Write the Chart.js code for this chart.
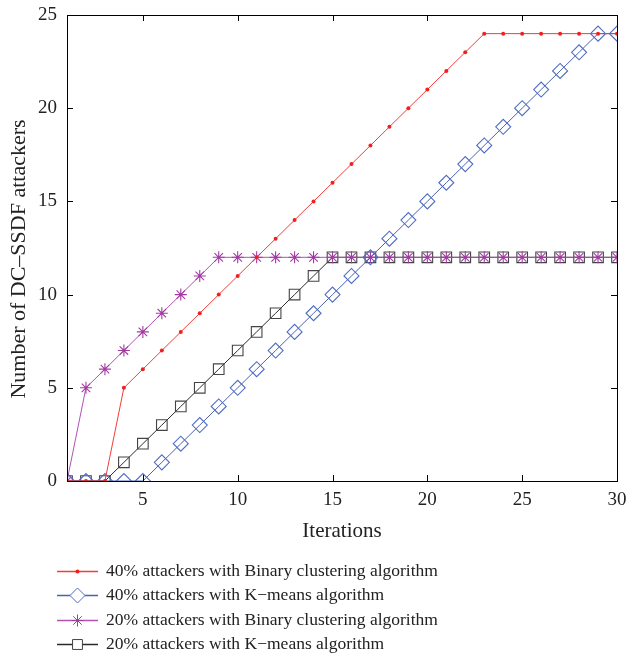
<!DOCTYPE html>
<html>
<head>
<meta charset="utf-8">
<script src="https://cdn.jsdelivr.net/npm/chart.js@4/dist/chart.umd.min.js"></script>
<style>
  html, body { margin: 0; padding: 0; background: #fff; }
  #wrap { width: 626px; height: 656px; }
</style>
</head>
<body>
<div id="wrap"><canvas id="chart" width="626" height="656"></canvas></div>
<script>
const iteracoes = Array.from({ length: 30 }, (_, i) => i + 1);

const binario40 = [0, 0, 0, 5, 6, 7, 8, 9, 10, 11, 12, 13, 14, 15, 16, 17, 18, 19, 20, 21, 22, 23, 24, 24, 24, 24, 24, 24, 24, 24];
const kmeans40 = [0, 0, 0, 0, 0, 1, 2, 3, 4, 5, 6, 7, 8, 9, 10, 11, 12, 13, 14, 15, 16, 17, 18, 19, 20, 21, 22, 23, 24, 24];
const binario20 = [0, 5, 6, 7, 8, 9, 10, 11, 12, 12, 12, 12, 12, 12, 12, 12, 12, 12, 12, 12, 12, 12, 12, 12, 12, 12, 12, 12, 12, 12];
const kmeans20 = [0, 0, 0, 1, 2, 3, 4, 5, 6, 7, 8, 9, 10, 11, 12, 12, 12, 12, 12, 12, 12, 12, 12, 12, 12, 12, 12, 12, 12, 12];

const nomes = [
    '40% attackers with Binary clustering algorithm',
    '40% attackers with K\u2212means algorithm',
    '20% attackers with Binary clustering algorithm',
    '20% attackers with K\u2212means algorithm',
];

const xTicks = [5, 10, 15, 20, 25, 30];
const yTicks = [0, 5, 10, 15, 20, 25];

const coresLinha = ['#f43c3c', '#4a62b0', '#b253b2', '#2a2a2a'];
const coresPonto = ['#f02020', '#4d6cc4', '#a33aa3', '#444'];
const estilos = ['circle', 'rectRot', 'star', 'rect'];
const raios = [2, 7.5, 6, 7];

const fonte = '"Liberation Serif", "DejaVu Serif", serif';

function pontos(serie) {
    return serie.map((v, i) => ({ x: iteracoes[i], y: v }));
}

// eixos com marcas para dentro + moldura
const moldura = {
    id: 'moldura',
    afterDatasetsDraw(chart) {
        const { ctx, chartArea: a, scales: { x, y } } = chart;
        ctx.save();
        ctx.strokeStyle = '#000';
        ctx.lineWidth = 1;
        ctx.beginPath();
        xTicks.forEach(v => {
            let px = Math.round(x.getPixelForValue(v)) + 0.5;
            ctx.moveTo(px, a.bottom); ctx.lineTo(px, a.bottom - 6);
            ctx.moveTo(px, a.top); ctx.lineTo(px, a.top + 6);
        });
        yTicks.forEach(v => {
            let py = Math.round(y.getPixelForValue(v)) + 0.5;
            ctx.moveTo(a.left, py); ctx.lineTo(a.left + 6, py);
            ctx.moveTo(a.right, py); ctx.lineTo(a.right - 6, py);
        });
        ctx.stroke();
        ctx.strokeRect(Math.round(a.left) + 0.5, Math.round(a.top) + 0.5,
            Math.round(a.right - a.left), Math.round(a.bottom - a.top));
        ctx.restore();
    }
};

// legenda em baixo, linha com marcador
const legenda = {
    id: 'legenda',
    afterDraw(chart) {
        const ctx = chart.ctx;
        const linhasY = [571, 595, 620, 644];
        ctx.save();
        nomes.forEach((nome, i) => {
            let yy = linhasY[i] + 0.5;
            ctx.beginPath();
            ctx.strokeStyle = coresLinha[i];
            ctx.lineWidth = 1.4;
            ctx.moveTo(57, yy);
            ctx.lineTo(98, yy);
            ctx.stroke();
            ctx.fillStyle = i === 0 ? coresPonto[i] : '#fff';
            ctx.strokeStyle = coresPonto[i];
            ctx.lineWidth = 1;
            Chart.helpers.drawPoint(ctx, {
                pointStyle: estilos[i],
                radius: raios[i],
                rotation: 0,
                borderWidth: i === 0 ? 0 : 1,
            }, 77.5, yy);
            ctx.fillStyle = '#222';
            ctx.font = '17.5px ' + fonte;
            ctx.textBaseline = 'middle';
            ctx.textAlign = 'left';
            ctx.fillText(nome, 106, yy);
        });
        ctx.restore();
    }
};

const series = [binario40, kmeans40, binario20, kmeans20];

new Chart(document.getElementById('chart'), {
    type: 'line',
    data: {
        datasets: series.map((s, i) => ({
            label: nomes[i],
            data: pontos(s),
            borderColor: coresLinha[i],
            borderWidth: 1,
            pointStyle: estilos[i],
            pointRadius: i === 3 ? 7.5 : raios[i],
            pointBackgroundColor: i === 0 ? coresPonto[i] : 'rgba(0,0,0,0)',
            pointBorderColor: coresPonto[i],
            pointBorderWidth: i === 0 ? 0 : 1.1,
        }))
    },
    options: {
        responsive: false,
        animation: false,
        layout: { padding: { left: 6, right: 9, top: 15, bottom: 112 } },
        plugins: {
            legend: { display: false },
            tooltip: { enabled: false },
        },
        scales: {
            x: {
                type: 'linear',
                min: 1,
                max: 30,
                afterBuildTicks: s => { s.ticks = xTicks.map(v => ({ value: v })); },
                grid: { display: false, drawTicks: false },
                border: { display: false },
                ticks: { color: '#222', font: { family: fonte, size: 19 }, padding: 8 },
                title: { display: true, text: 'Iterations', color: '#222', font: { family: fonte, size: 21 }, padding: { top: 11, bottom: 0 } },
                afterFit: s => { s.height = 63; s.paddingLeft = 0; s.paddingRight = 0; },
            },
            y: {
                min: 0,
                max: 25,
                afterBuildTicks: s => { s.ticks = yTicks.map(v => ({ value: v })); },
                grid: { display: false, drawTicks: false },
                border: { display: false },
                ticks: { color: '#222', font: { family: fonte, size: 19 }, padding: 10 },
                title: { display: true, text: 'Number of DC\u2013SSDF attackers\u2002\u2002', color: '#222', font: { family: fonte, size: 22 }, padding: { top: 0, bottom: 4 } },
                afterFit: s => { s.width = 61; s.paddingTop = 0; s.paddingBottom = 0; },
            }
        }
    },
    plugins: [moldura, legenda],
});
</script>
</body>
</html>
